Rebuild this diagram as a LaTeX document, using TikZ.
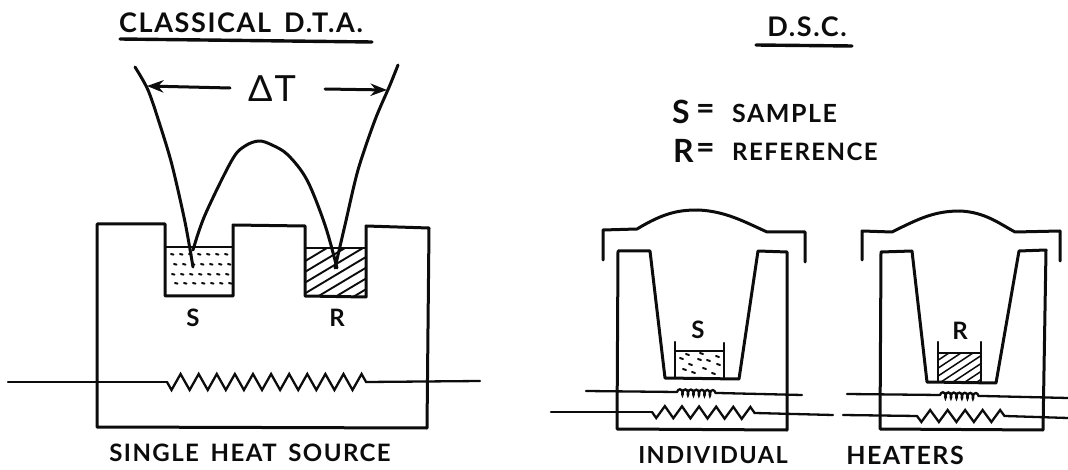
\documentclass[tikz,border=0pt]{standalone}
\usepackage{fontspec}
\usepackage{tikz}
\usepackage{xcolor}
\setmainfont{Lato}[LetterSpace=6,WordSpace=1.6]
\usetikzlibrary{arrows.meta,decorations.pathmorphing}
\definecolor{inkcol}{HTML}{0C0C0C}
\tikzset{
  inkline/.style={inkcol,line width=3pt,line join=round,line cap=round},
  wireline/.style={inkcol,line width=2.3pt,line cap=round},
  heatzig/.style 2 args={decorate,decoration={zigzag,mirror,segment length=#1,amplitude=#2}},
  heatcoil/.style={decorate,decoration={coil,aspect=0.5,segment length=5.5pt,amplitude=2.8pt}},
  lettering/.style={inkcol,font=\bfseries\fontsize{24}{24}\selectfont,inner sep=0pt},
  bigletter/.style={inkcol,font=\bfseries\fontsize{32}{32}\selectfont,inner sep=0pt}
}
\begin{document}
\begin{tikzpicture}[x=1pt,y=-1pt,>=Stealth]
  \useasboundingbox (0,0) rectangle (1068,470);
  % classical side
  \node[lettering,font=\bfseries\fontsize{27}{27}\selectfont] (dtatitle) at (241,23) {CLASSICAL D.T.A.};
  \draw[inkline,line width=3.4pt] (120,39) -- (372,42);
  \node[inkcol,font=\fontsize{36}{36}\selectfont,inner sep=0pt] (deltat) at (272,89) {ΔT};
  \draw[->,inkline] (230,88) -- (147,86);
  \draw[->,inkline] (325,89) -- (387,90);
  \draw[inkline] (97,224) -- (165,224) -- (165,296) -- (233,296) -- (233,225) -- (305,226)
    -- (305,296) -- (366,297) -- (366,226) -- (429,228) -- (427,428) -- (97,427) -- cycle;
  \draw[wireline] (165,247) -- (233,247) (305,248) -- (366,248);
  % sample dots
  \foreach \y/\s in {254/0,264/3,274/1,283/4}
    \foreach \x in {171,180,189,198,207,216,225}
      \draw[inkcol,line width=2pt,line cap=round] (\x+\s,\y) -- (\x+\s+2.5,\y+0.6);
  % reference hatch
  \begin{scope}
    \clip (305,248) rectangle (366,297);
    \foreach \x in {245,263,281,299,317,335,353}
      \draw[wireline,line width=1.9pt] (\x,297) -- (\x+82,248);
  \end{scope}
  % thermocouple
  \draw[inkline] plot[smooth,tension=0.5] coordinates {(135,67) (148,90) (160,125) (172,165) (185,222) (193,267)};
  \draw[inkline] plot[smooth,tension=0.55] coordinates {(193,250) (205,215) (232,160) (245,146) (259,141) (272,145) (288,155) (307,180) (325,225) (337,268)};
  \draw[inkline] plot[smooth,tension=0.5] coordinates {(335,268) (345,225) (358,170) (375,120) (390,85) (398,65)};
  \node[lettering] (slabel) at (193,318) {S};
  \node[lettering] (rlabel) at (337,318) {R};
  \draw[wireline] (8,382) -- (167,382);
  \draw[wireline,heatzig={18.1pt}{8pt}] (167,382) -- (367,382);
  \draw[wireline] (367,382) -- (480,381);
  \node[lettering] (single) at (250,453) {SINGLE HEAT SOURCE};
  % dsc side
  \node[lettering,font=\bfseries\fontsize{27}{27}\selectfont] (dsctitle) at (807,27) {D.S.C.};
  \draw[inkline,line width=3.4pt] (756,45) -- (852,46);
  \node[bigletter,anchor=west] (sign) at (672,112) {S};
  \node[bigletter,anchor=west] (rign) at (673,151) {R};
  \node[bigletter,anchor=west] (seq) at (696,112) {=};
  \node[bigletter,anchor=west] (req) at (696,151) {=};
  \node[lettering,font=\bfseries\fontsize{25}{25}\selectfont,anchor=west] (sample) at (732,113) {SAMPLE};
  \node[lettering,anchor=west] (reference) at (732,152) {REFERENCE};
  % sample furnace
  \draw[inkline] (603,260) -- (603,230) -- (637,229) .. controls (665,212) and (680,210) .. (698,210)
    .. controls (725,211) and (745,222) .. (767,232) -- (805,232) -- (805,262);
  \draw[inkline] (618,251) -- (650,251) -- (665,378) -- (739,379) -- (758,251) -- (787,252)
    -- (787,430) -- (617,429) -- cycle;
  \draw[wireline] (675,342) -- (675,378) (724,343) -- (724,378) (675,351) -- (724,351);
  \foreach \x/\y in {680/358,689/364,698/359,707/360,716/356,683/369,692/372,703/368,712/373,717/364,686/354,700/353}
    \draw[inkcol,line width=2pt,line cap=round] (\x,\y) -- (\x+3,\y+1);
  \node[lettering] (ssmall) at (698,330) {S};
  \draw[wireline] (586,391) -- (677,392);
  \draw[wireline,heatcoil] (677,392) -- (718,393);
  \draw[wireline] (718,393) -- (802,395);
  \draw[wireline] (551,412) -- (652,412);
  \draw[wireline,heatzig={17.1pt}{6pt}] (652,412) -- (755,413);
  \draw[wireline] (755,413) -- (833,415);
  \node[lettering,font=\bfseries\fontsize{23.5}{23.5}\selectfont] (indiv) at (713,455) {INDIVIDUAL};
  % reference furnace
  \draw[inkline] (862,260) -- (862,231) -- (892,232) .. controls (920,218) and (935,211) .. (960,211)
    .. controls (985,212) and (1000,224) .. (1015,232) -- (1060,231) -- (1060,261);
  \draw[inkline] (881,252) -- (912,251) -- (927,382) -- (996,383) -- (1019,251) -- (1046,250)
    -- (1043,430) -- (880,429) -- cycle;
  \draw[wireline] (938,342) -- (938,382) (981,342) -- (981,382) (938,353) -- (981,353);
  \begin{scope}
    \clip (938,353) rectangle (981,382);
    \foreach \x in {905,917,929,941,953,965,977}
      \draw[wireline,line width=1.5pt] (\x,382) -- (\x+44,353);
  \end{scope}
  \node[lettering] (rsmall) at (960,331) {R};
  \draw[wireline] (847,394) -- (940,395);
  \draw[wireline,heatcoil] (940,395) -- (983,396);
  \draw[wireline] (983,396) -- (1068,398);
  \draw[wireline] (843,415) -- (917,416);
  \draw[wireline,heatzig={17.5pt}{6pt}] (917,416) -- (1005,416);
  \draw[wireline] (1005,416) -- (1068,418);
  \node[lettering,font=\bfseries\fontsize{25}{25}\selectfont] (heaters) at (905,455) {HEATERS};
\end{tikzpicture}
\end{document}
